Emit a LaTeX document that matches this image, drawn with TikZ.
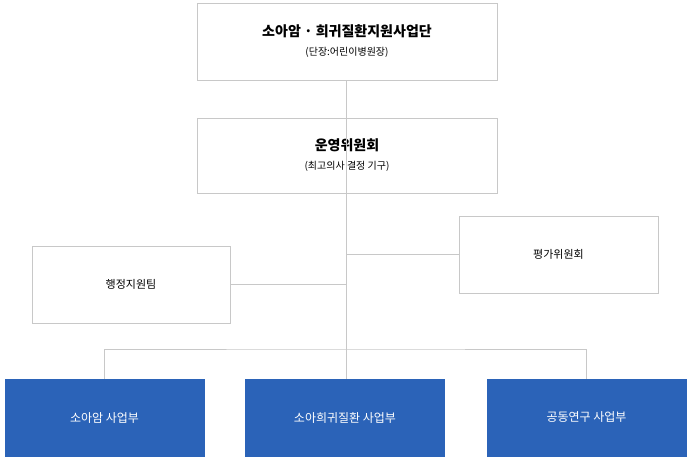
\documentclass[tikz,border=0pt]{standalone}
\usepackage{fontspec}
\setmainfont{Noto Sans CJK KR}
\usetikzlibrary{calc}

\definecolor{linegray}{HTML}{C8C8C8}
\definecolor{unitblue}{HTML}{2B63B8}

\begin{document}
\begin{tikzpicture}[x=1pt,y=-1pt,
  whitebox/.style={draw=linegray, fill=white, minimum width=200pt, minimum height=76pt, align=center, font=\fontsize{11}{15}\selectfont},
  bluebox/.style={draw=unitblue, fill=unitblue, text=white, minimum width=199pt, minimum height=77pt, font=\fontsize{12}{15}\selectfont},
  link/.style={draw=linegray, line width=0.8pt}]

\useasboundingbox (0,0) rectangle (692,458);

% head
\node[whitebox, minimum width=300pt, minimum height=77pt] (head) at (347,41.5)
  {{\fontsize{14}{20}\selectfont\bfseries 소아암 · 희귀질환지원사업단}\\[4pt]{\fontsize{10}{13}\selectfont (단장:어린이병원장)}};

% committee
\node[whitebox, minimum width=300pt, minimum height=75pt] (board) at (347,155.5)
  {{\fontsize{14}{20}\selectfont\bfseries 운영위원회}\\[4pt]{\fontsize{10}{13}\selectfont (최고의사 결정 기구)}};

% side units
\node[whitebox, minimum width=199pt, minimum height=77pt] (review) at (558.5,254.5) {평가위원회};
\node[whitebox, minimum width=198pt, minimum height=77pt] (admin) at (131,284.5) {행정지원팀};

% business units
\node[bluebox] (cancer) at (104.5,417.5) {소아암 사업부};
\node[bluebox] (rare) at (345,417.5) {소아희귀질환 사업부};
\node[bluebox] (joint) at (586.5,417.5) {공동연구 사업부};

% connectors
\coordinate (bus) at (346,349);
\draw[link] (head.south -| bus) -- (board.south -| bus);
\draw[link] (board.south -| bus) -- (bus);
\draw[link] (bus |- review.west) -- (review.west);
\draw[link] (admin.east) -- (bus |- admin.east);
\draw[link] (cancer.north) |- (bus) -| (joint.north);
\draw[link] (bus) -- (bus |- rare.north);

\end{tikzpicture}
\end{document}
